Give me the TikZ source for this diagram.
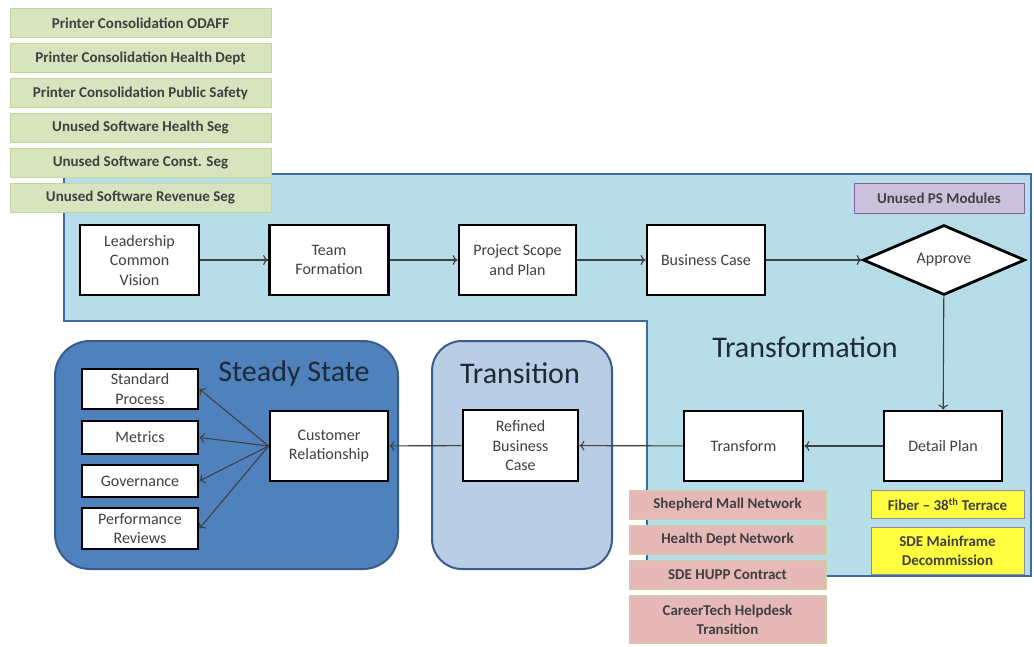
\documentclass[tikz,border=0pt]{standalone}
\usepackage{fontspec}
\setmainfont{Carlito}
\usetikzlibrary{shapes.geometric,arrows.meta}
\definecolor{regfill}{HTML}{B7DEE8}
\definecolor{regdraw}{HTML}{3E6BA3}
\definecolor{ssfill}{HTML}{4F81BD}
\definecolor{ssdraw}{HTML}{385D8A}
\definecolor{trfill}{HTML}{B9CDE5}
\definecolor{gfill}{HTML}{D7E4BD}
\definecolor{gdraw}{HTML}{C3D69B}
\definecolor{pfill}{HTML}{E6B9B8}
\definecolor{ufill}{HTML}{CCC1DA}
\definecolor{udraw}{HTML}{8064A2}
\definecolor{yfill}{HTML}{FFFF3F}
\definecolor{ydraw}{HTML}{8E8AA0}
\definecolor{txt}{HTML}{404040}
\definecolor{ttl}{HTML}{1E2A36}
\tikzset{
  proc/.style={draw=black, line width=2.8pt, fill=white, align=center, text=txt,
    font=\fontsize{16}{19.5}\selectfont, inner sep=1pt},
  tag/.style={draw=#1, line width=1pt, align=center, font=\bfseries\fontsize{15}{19}\selectfont,
    text=txt, inner sep=1pt},
  conn/.style={draw=txt, line width=1.1pt, -{To[length=5pt,width=10pt]}},
  ttlfont/.style={font=\fontsize{30}{33}\selectfont, text=ttl},
}
\begin{document}
\begin{tikzpicture}[x=1pt,y=-1pt]
\path[fill=white] (0,0) rectangle (1034,646);
\useasboundingbox (0,0) rectangle (1034,646);
% Transformation region
\draw[fill=regfill, draw=regdraw, line width=2pt]
  (64,174) -- (1031,174) -- (1031,576) -- (647,576) -- (647,321) -- (64,321) -- cycle;
\node[ttlfont] (ttrans) at (805,347) {Transformation};
% Steady State & Transition
\draw[fill=ssfill, draw=ssdraw, line width=2pt, rounded corners=35pt] (55,341) rectangle (398,569);
\draw[fill=trfill, draw=ssdraw, line width=2pt, rounded corners=30pt] (432,341) rectangle (612,569);
\node[ttlfont] (tss) at (294,373) {Steady State};
\node[ttlfont] (ttr) at (520,373) {Transition};
% green tags
\foreach \t [count=\i] in {Printer Consolidation ODAFF, Printer Consolidation Health Dept,
  Printer Consolidation Public Safety, Unused Software Health Seg, Unused Software Const. Seg,
  Unused Software Revenue Seg}{
  \node[tag=gdraw, fill=gfill, minimum width=261, minimum height=29] (g\i) at (140.5,{23+35*(\i-1)}) {\t};
}
\node[tag=udraw, fill=ufill, minimum width=170, minimum height=30] (ps) at (939,198) {Unused PS Modules};
% top row
\node[proc, minimum width=119, minimum height=70] (lead) at (139.5,260) {Leadership\\Common\\Vision};
\node[proc, minimum width=119, minimum height=70] (team) at (329,260) {Team\\Formation};
\node[proc, minimum width=117, minimum height=70] (scope) at (517.5,260) {Project Scope\\and Plan};
\node[proc, minimum width=118, minimum height=70] (bcase) at (706,260) {Business Case};
\node[proc, shape=diamond, aspect=2.3, minimum width=162, minimum height=70, inner sep=0pt] (appr) at (944,260) {Approve};
% bottom row
\node[proc, minimum width=118, minimum height=70] (detail) at (943,446) {Detail Plan};
\node[proc, minimum width=119, minimum height=70] (transf) at (743.5,446) {Transform};
\node[proc, minimum width=115, minimum height=71] (refined) at (520.5,445.5) {Refined\\Business\\Case};
\node[proc, minimum width=118, minimum height=70] (cust) at (329,446) {Customer\\Relationship};
\node[proc, minimum width=116, minimum height=40] (std) at (140,389) {Standard\\Process};
\node[proc, minimum width=116, minimum height=33] (met) at (140,437.5) {Metrics};
\node[proc, minimum width=116, minimum height=32] (gov) at (140,481) {Governance};
\node[proc, minimum width=116, minimum height=41] (perf) at (140,528.5) {Performance\\Reviews};
% pink tags
\node[tag=gdraw, fill=pfill, minimum width=197, minimum height=29] (p1) at (727.5,504.5) {Shepherd Mall Network};
\node[tag=gdraw, fill=pfill, minimum width=197, minimum height=29] (p2) at (727.5,539.5) {Health Dept Network};
\node[tag=gdraw, fill=pfill, minimum width=197, minimum height=29] (p3) at (727.5,574.5) {SDE HUPP Contract};
\node[tag=gdraw, fill=pfill, minimum width=197, minimum height=48] (p4) at (727.5,619.5) {CareerTech Helpdesk\\Transition};
% yellow tags
\node[tag=ydraw, fill=yfill, minimum width=153, minimum height=28] (y1) at (947.5,504) {Fiber -- 38\textsuperscript{th} Terrace};
\node[tag=ydraw, fill=yfill, minimum width=153, minimum height=47] (y2) at (947.5,550.5) {SDE Mainframe\\Decommission};
% connectors
\draw[conn] (lead) -- (team);
\draw[conn] (team) -- (scope);
\draw[conn] (scope) -- (bcase);
\draw[conn] (bcase) -- (appr);
\draw[conn] (appr) -- (detail);
\draw[conn] (detail) -- (transf);
\draw[conn] (transf) -- (refined);
\draw[conn] (refined) -- (cust);
\draw[conn] (cust.west) -- (std.east);
\draw[conn] (cust.west) -- (met.east);
\draw[conn] (cust.west) -- (gov.east);
\draw[conn] (cust.west) -- (perf.east);
\end{tikzpicture}
\end{document}
